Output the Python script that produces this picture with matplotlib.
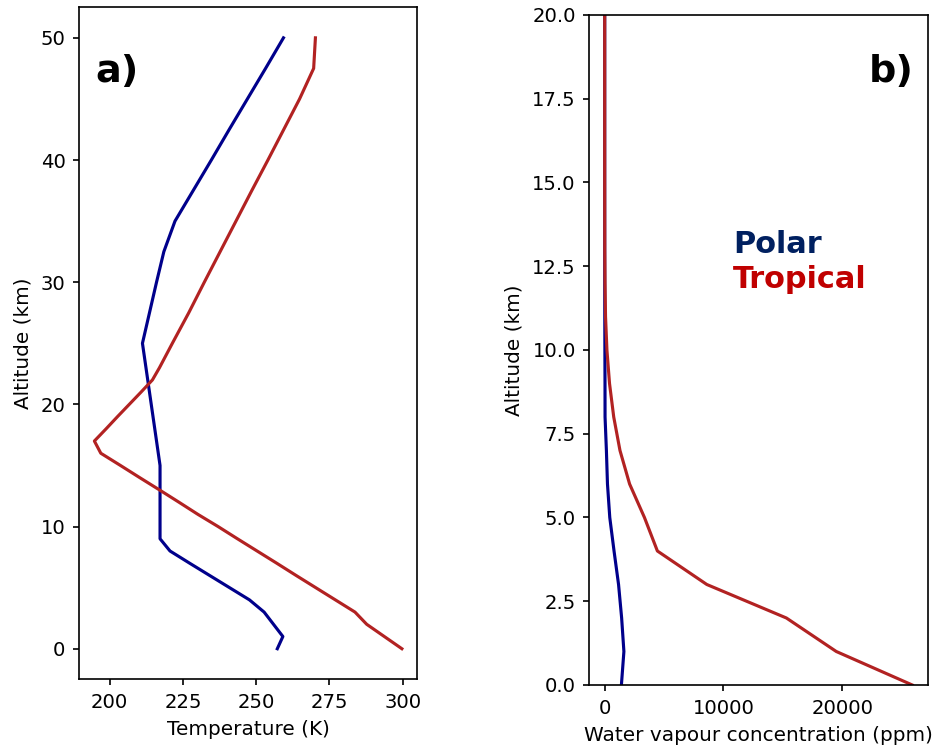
import numpy as np
import matplotlib
matplotlib.use("Agg")
import matplotlib.pyplot as plt

# altitude grid (km) for temperature profiles
alt_t = [0, 1, 2, 3, 4, 5, 6, 7, 8, 9, 10, 11, 12, 13, 14, 15, 16, 17, 18, 19,
         20, 21, 22, 23, 24, 25, 27.5, 30, 32.5, 35, 37.5, 40, 42.5, 45, 47.5, 50]
temp_polar = [257.2, 259.1, 255.9, 252.7, 247.7, 240.9, 234.1, 227.3, 220.6, 217.2,
              217.2, 217.2, 217.2, 217.2, 217.2, 217.2, 216.6, 216.0, 215.4, 214.8,
              214.2, 213.6, 213.0, 212.4, 211.8, 211.2, 213.6, 216.0, 218.5, 222.3,
              228.5, 234.7, 240.8, 247.0, 253.2, 259.3]
temp_tropical = [299.7, 293.7, 287.7, 283.7, 277.0, 270.3, 263.6, 257.0, 250.3, 243.6,
                 237.0, 230.1, 223.6, 217.0, 210.3, 203.7, 197.0, 194.8, 198.8, 202.7,
                 206.7, 210.7, 214.6, 217.0, 219.2, 221.4, 227.0, 232.3, 237.7, 243.1,
                 248.5, 254.0, 259.4, 264.8, 269.6, 270.2]

# altitude grid (km) for water vapour profiles
alt_w = list(range(0, 21))
h2o_polar = [1410, 1620, 1430, 1170, 790, 431, 237, 147, 33.8, 29.8, 20.0,
             10.0, 6.0, 4.5, 4.5, 4.5, 4.5, 4.5, 4.5, 4.5, 4.5]
h2o_tropical = [25900, 19500, 15300, 8600, 4440, 3350, 2100, 1290, 764, 410, 191,
                73.1, 29.1, 9.9, 6.22, 4.0, 3.0, 2.9, 2.75, 2.6, 2.6]

c_polar = "darkblue"
c_trop = "firebrick"

plt.rcParams["xtick.labelsize"] = 9.4
plt.rcParams["ytick.labelsize"] = 9.4
plt.rcParams["axes.labelsize"] = 9.6
plt.rcParams["xtick.major.size"] = 3.0
plt.rcParams["ytick.major.size"] = 3.0

fig = plt.figure(figsize=(6.24, 752 / 150), dpi=150)
ax1 = fig.add_axes([0.0844, 0.0967, 0.3614, 0.8936])
ax2 = fig.add_axes([0.6296, 0.0891, 0.3615, 0.8910])

# a) temperature
ax1.plot(temp_polar, alt_t, color=c_polar, lw=1.5)
ax1.plot(temp_tropical, alt_t, color=c_trop, lw=1.5)
ax1.set_xticks([200, 225, 250, 275, 300])
ax1.set_yticks([0, 10, 20, 30, 40, 50])
ax1.set_xlabel("Temperature (K)")
ax1.set_ylabel("Altitude (km)")
ax1.text(0.048, 0.889, "a)", transform=ax1.transAxes, fontsize=18.3,
         fontweight="bold", ha="left", va="baseline")

# b) water vapour
ax2.plot(h2o_polar, alt_w, color=c_polar, lw=1.5)
ax2.plot(h2o_tropical, alt_w, color=c_trop, lw=1.5)
ax2.set_ylim(0, 20)
ax2.set_yticks(np.arange(0, 20.1, 2.5))
ax2.set_xticks([0, 10000, 20000])
ax2.set_xlabel("Water vapour concentration (ppm)")
ax2.set_ylabel("Altitude (km)")
ax2.text(0.958, 0.900, "b)", transform=ax2.transAxes, fontsize=18.3,
         fontweight="bold", ha="right", va="baseline")
ax2.text(0.424, 0.644, "Polar", transform=ax2.transAxes, fontsize=14.6,
         fontweight="bold", color="#002060", ha="left", va="baseline")
ax2.text(0.424, 0.592, "Tropical", transform=ax2.transAxes, fontsize=14.6,
         fontweight="bold", color="#C00000", ha="left", va="baseline")

fig.savefig("out.png", dpi=150)
